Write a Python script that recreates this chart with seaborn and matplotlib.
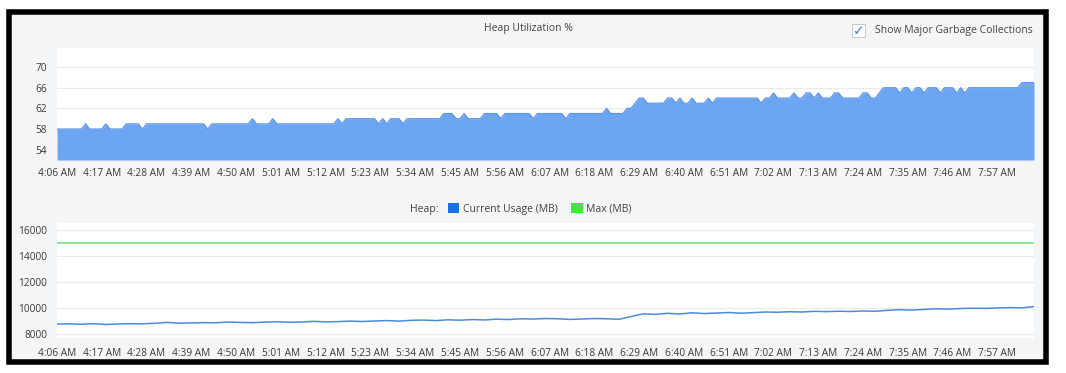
import matplotlib
matplotlib.use('Agg')

import matplotlib.pyplot as plt
import numpy as np
import seaborn as sns
from matplotlib.patches import Rectangle, Patch

# time axis: minutes after 4:06 AM
tick_labels = ['4:06 AM', '4:17 AM', '4:28 AM', '4:39 AM', '4:50 AM', '5:01 AM',
               '5:12 AM', '5:23 AM', '5:34 AM', '5:45 AM', '5:56 AM', '6:07 AM',
               '6:18 AM', '6:29 AM', '6:40 AM', '6:51 AM', '7:02 AM', '7:13 AM',
               '7:24 AM', '7:35 AM', '7:46 AM', '7:57 AM']
tick_minutes = [0, 11, 22, 33, 44, 55, 66, 77, 88, 99, 110, 121,
                132, 143, 154, 165, 176, 187, 198, 209, 220, 231]

# heap utilization %, one sample per minute
heap_pct = [
    58, 58, 58, 58, 58, 58, 58, 59, 58, 58, 58, 58, 59, 58, 58, 58, 58, 59, 59, 59,
    59, 58, 59, 59, 59, 59, 59, 59, 59, 59, 59, 59, 59, 59, 59, 59, 59, 58, 59, 59,
    59, 59, 59, 59, 59, 59, 59, 59, 60, 59, 59, 59, 59, 60, 59, 59, 59, 59, 59, 59,
    59, 59, 59, 59, 59, 59, 59, 59, 59, 60, 59, 60, 60, 60, 60, 60, 60, 60, 60, 59,
    60, 59, 60, 60, 60, 59, 60, 60, 60, 60, 60, 60, 60, 60, 60, 61, 61, 61, 60, 60,
    61, 60, 60, 60, 60, 61, 61, 61, 61, 60, 61, 61, 61, 61, 61, 61, 61, 60, 61, 61,
    61, 61, 61, 61, 61, 60, 61, 61, 61, 61, 61, 61, 61, 61, 61, 62, 61, 61, 61, 61,
    62, 62, 63, 64, 64, 63, 63, 63, 63, 63, 64, 64, 63, 64, 63, 63, 64, 63, 63, 63,
    64, 63, 64, 64, 64, 64, 64, 64, 64, 64, 64, 64, 64, 63, 64, 64, 65, 64, 64, 64,
    64, 65, 64, 64, 65, 65, 64, 65, 64, 64, 64, 65, 65, 64, 64, 64, 64, 64, 65, 65,
    64, 64, 65, 66, 66, 66, 66, 65, 66, 66, 65, 66, 66, 65, 66, 66, 66, 65, 66, 66,
    66, 65, 66, 65, 66, 66, 66, 66, 66, 66, 66, 66, 66, 66, 66, 66, 66, 67, 67, 67,
    67,
]
pct_minutes = np.arange(len(heap_pct))

# heap current usage (MB), one sample every 3 minutes
usage_mb = [
    8770, 8790, 8760, 8800, 8740, 8780, 8800, 8790, 8830, 8900,
    8840, 8860, 8880, 8870, 8930, 8900, 8880, 8920, 8950, 8910,
    8930, 8980, 8940, 8960, 9000, 8970, 9010, 9040, 9000, 9060,
    9080, 9040, 9100, 9070, 9120, 9090, 9150, 9120, 9180, 9160,
    9200, 9180, 9130, 9160, 9200, 9180, 9140, 9350, 9560, 9520,
    9600, 9550, 9640, 9580, 9620, 9660, 9610, 9650, 9700, 9680,
    9720, 9700, 9750, 9730, 9760, 9740, 9780, 9760, 9830, 9880,
    9850, 9900, 9950, 9920, 9970, 9990, 9980, 10010, 10040, 10020,
    10120,
]
usage_minutes = np.arange(0, 3 * len(usage_mb), 3)
max_mb = 15000

sns.set_theme(style='white')
plt.rcParams['font.family'] = ['Open Sans', 'DejaVu Sans']

W, H = 1066, 373
fig = plt.figure(figsize=(W / 100, H / 100), dpi=100, facecolor='white')

# panel frame
fig.patches.append(Rectangle((9 / W, 1 - 362 / H), 1037 / W, 350 / H,
                             transform=fig.transFigure, facecolor='#f4f5f7',
                             edgecolor='black', lw=4, zorder=-5))

ax1 = fig.add_axes([57 / W, 1 - 160 / H, 977 / W, 112 / H])
ax2 = fig.add_axes([57 / W, 1 - 338 / H, 977 / W, 115 / H])

text_col = '#3a3a3a'


def style_axis(ax, yticks):
    ax.set_facecolor('white')
    for s in ax.spines.values():
        s.set_visible(False)
    ax.set_yticks(yticks)
    ax.set_xticks(tick_minutes)
    ax.set_xticklabels(tick_labels)
    ax.set_xlim(0, 240)
    ax.grid(axis='y', color='#e9e9e9', lw=0.8)
    ax.grid(axis='x', visible=False)
    ax.tick_params(axis='both', labelsize=7.3, colors='#cfcfcf', labelcolor=text_col)
    ax.tick_params(axis='y', length=4, width=0.6, pad=3)
    ax.tick_params(axis='x', length=0, pad=6)
    ax.set_xlabel('')
    ax.set_ylabel('')


# top: heap utilization area
sns.lineplot(x=pct_minutes, y=heap_pct, ax=ax1, color='#5d95e8', lw=0.9)
ax1.fill_between(pct_minutes, heap_pct, 52, color='#6ca5f2', lw=0)
ax1.set_ylim(52, 73.7)
style_axis(ax1, [54, 58, 62, 66, 70])

# bottom: heap usage lines
sns.lineplot(x=usage_minutes, y=usage_mb, ax=ax2, color='#4a8cd8', lw=1.1)
ax2.axhline(max_mb, color='#86e486', lw=1.3)
ax2.set_ylim(7700, 16550)
style_axis(ax2, [8000, 10000, 12000, 14000, 16000])
ax2.tick_params(axis='x', length=3, width=0.6, pad=4)

# title and checkbox
fig.text(528 / W, 1 - 29 / H, 'Heap Utilization %', ha='center', va='center',
         fontsize=7.5, color='#444444')
fig.patches.append(Rectangle((852 / W, 1 - 37 / H), 13 / W, 13 / H,
                             transform=fig.transFigure, facecolor='white',
                             edgecolor='#c8c8c8', lw=0.7))
fig.text(858.5 / W, 1 - 31 / H, '\u2713', ha='center', va='center', fontsize=10,
         color='#3a7fd5', family='DejaVu Sans', fontweight='bold')
fig.text(875 / W, 1 - 30 / H, 'Show Major Garbage Collections', ha='left',
         va='center', fontsize=7.5, color='#444444')

# legend
fig.text(410 / W, 1 - 209 / H, 'Heap:', ha='left', va='center', fontsize=7.5,
         color='#444444')
handles = [Patch(facecolor='#1f6fe6', edgecolor='none', label='Current Usage (MB)'),
           Patch(facecolor='#3ee63e', edgecolor='none', label='Max (MB)')]
fig.legend(handles=handles, loc='center left', bbox_to_anchor=(448 / W, 1 - 209 / H),
           ncol=2, frameon=False, fontsize=7.5, handlelength=1.1, handleheight=1.1,
           handletextpad=0.35, columnspacing=1.3, labelcolor='#444444',
           borderpad=0, borderaxespad=0)

fig.savefig('out.png', dpi=100, facecolor='white')
